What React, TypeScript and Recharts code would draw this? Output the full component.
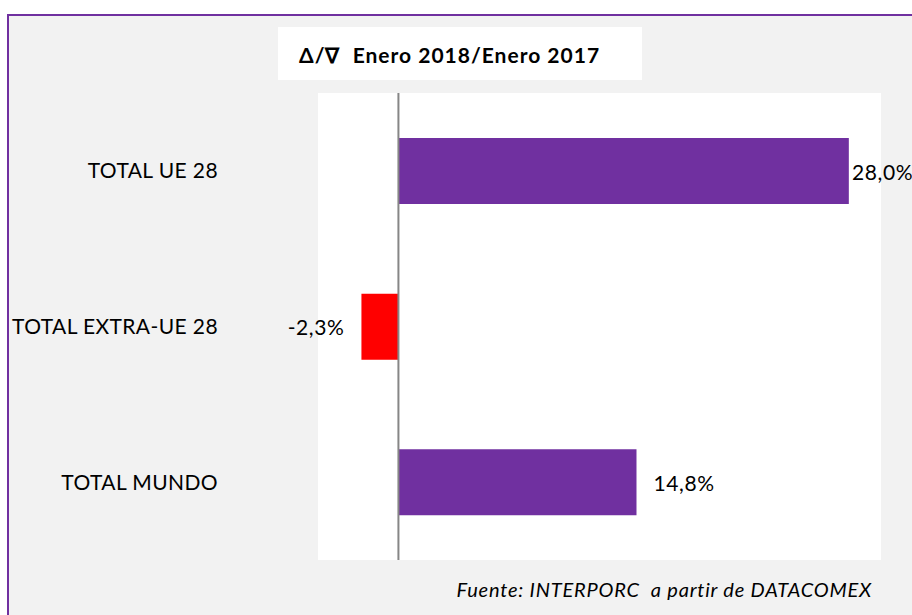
import { BarChart, Bar, XAxis, YAxis, Cell, LabelList, ReferenceLine, CartesianGrid } from "recharts";

const categories = ["TOTAL UE 28", "TOTAL EXTRA-UE 28", "TOTAL MUNDO"];
const changes = [28.0, -2.3, 14.8];
const barColors = ["#7030a0", "#ff0000", "#7030a0"];

const rows = categories.map((name, i) => ({ name, value: changes[i] }));

const FONT = "Lato, 'Open Sans', sans-serif";
const fmt = (v: number) => `${v.toFixed(1).replace(".", ",")}%`;

function ValueLabel(props: any) {
  const { x, y, width, height, value } = props;
  const v = Number(value);
  const cy = y + height / 2;
  if (v < 0) {
    const left = Math.min(x, x + width);
    return (
      <text x={left - 17} y={cy} textAnchor="end" dominantBaseline="central" fontSize={21} letterSpacing={0.6} fill="#000" fontFamily={FONT}>
        {fmt(v)}
      </text>
    );
  }
  // keep the label inside the picture, as Excel does for the long bar
  const start = Math.min(x + width + 17, 912 - 60);
  return (
    <text x={start} y={cy} textAnchor="start" dominantBaseline="central" fontSize={21} letterSpacing={0.6} fill="#000" fontFamily={FONT}>
      {fmt(v)}
    </text>
  );
}

export default function App() {
  return (
    <div style={{ position: "absolute", left: 0, top: 0, width: 912, height: 615, overflow: "hidden", background: "#fff", fontFamily: FONT }}>
      <div
        style={{
          position: "absolute",
          left: 7,
          top: 14,
          width: 940,
          height: 640,
          border: "2px solid #7030a0",
          background: "#f2f2f2",
        }}
      />
      <div
        style={{
          position: "absolute",
          left: 278,
          top: 27,
          width: 364,
          height: 53,
          background: "#fff",
          display: "flex",
          alignItems: "center",
          paddingLeft: 21,
          paddingTop: 3,
          boxSizing: "border-box",
          fontSize: 21,
          fontWeight: 700,
          letterSpacing: 1,
          color: "#000",
          whiteSpace: "pre",
        }}
      >
        {"Δ/∇  Enero 2018/Enero 2017"}
      </div>
      <div style={{ position: "absolute", left: 0, top: 0 }}>
        <BarChart
          width={912}
          height={615}
          data={rows}
          layout="vertical"
          margin={{ top: 93, right: 31, bottom: 55, left: 18 }}
          barSize={66}
        >
          <CartesianGrid horizontal={false} vertical={false} fill="#ffffff" />
          <XAxis type="number" domain={[-5, 30]} hide />
          <YAxis
            type="category"
            dataKey="name"
            width={300}
            axisLine={false}
            tickLine={false}
            tickSize={0}
            tickMargin={100}
            tick={{ fontSize: 21, fill: "#000", fontFamily: FONT, letterSpacing: 0.4 }}
          />
          <ReferenceLine x={0} stroke="#868686" strokeWidth={2} />
          <Bar dataKey="value" isAnimationActive={false}>
            {rows.map((r, i) => (
              <Cell key={r.name} fill={barColors[i]} />
            ))}
            <LabelList dataKey="value" content={ValueLabel} />
          </Bar>
        </BarChart>
      </div>
      <div
        style={{
          position: "absolute",
          right: 40,
          top: 577,
          fontSize: 20,
          fontStyle: "italic",
          letterSpacing: 0.8,
          color: "#000",
          whiteSpace: "pre",
        }}
      >
        {"Fuente: INTERPORC  a partir de DATACOMEX"}
      </div>
    </div>
  );
}
